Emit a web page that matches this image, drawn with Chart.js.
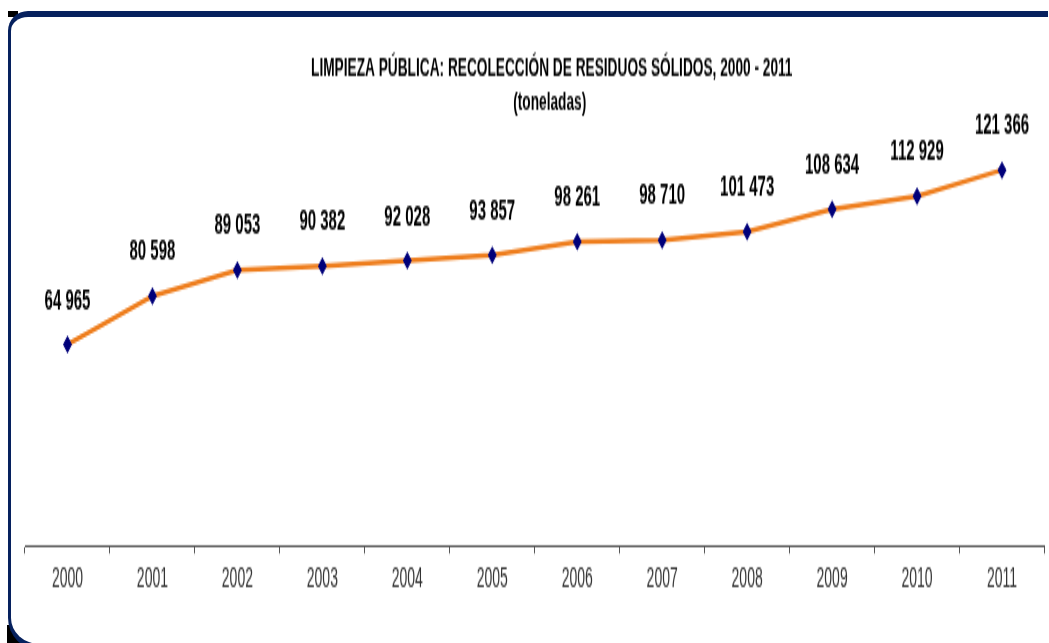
<!DOCTYPE html>
<html lang="es">
<head>
<meta charset="utf-8">
<title>Limpieza pública: recolección de residuos sólidos, 2000 - 2011</title>
<script src="https://cdn.jsdelivr.net/npm/chart.js@4/dist/chart.umd.min.js"></script>
<style>
  html, body { margin: 0; padding: 0; background: #fff; }
  body { width: 1049px; height: 643px; overflow: hidden; position: relative; }
  #corner { position: absolute; left: 8px; top: 11px; width: 10px; height: 6px; background: #000; }
  #corner2 { position: absolute; left: 7px; top: 625px; width: 14px; height: 20px; background: #000; }
  #frame {
    position: absolute; left: 8px; top: 11px; width: 1040px; height: 639px;
    border-top: 6px solid #06215e; border-left: 3px solid #06215e; border-bottom: 6px solid #06215e;
    border-top-left-radius: 20px; border-bottom-left-radius: 32px; box-sizing: border-box;
    background: #fff;
  }
  #wrap {
    position: absolute; left: 0; top: 0; width: 1049px; height: 322px;
    transform: scaleY(1.997); transform-origin: 0 0;
  }
</style>
</head>
<body>
<div id="corner"></div>
<div id="corner2"></div>
<div id="frame"></div>
<div id="wrap"><canvas id="chart" width="1049" height="322"></canvas></div>
<script>
// Data
const years = ['2000', '2001', '2002', '2003', '2004', '2005', '2006', '2007', '2008', '2009', '2010', '2011'];
const tonnes = [64965, 80598, 89053, 90382, 92028, 93857, 98261, 98710, 101473, 108634, 112929, 121366];
const titleLines = ['LIMPIEZA PÚBLICA: RECOLECCIÓN DE RESIDUOS SÓLIDOS, 2000 - 2011', '(toneladas)'];

// "64 965" style thousands separator
function formatTonnes(v) {
  return String(v).replace(/\B(?=(\d{3})+(?!\d))/g, ' ');
}

// Title sits a little right of the plot centre in the original
const offsetTitle = {
  id: 'offsetTitle',
  afterDraw(chart) {
    const ctx = chart.ctx;
    const { left, right } = chart.chartArea;
    const cx = (left + right) / 2 + 17;
    ctx.save();
    ctx.font = 'bold 13.7px "Liberation Sans", Arial, sans-serif';
    ctx.fillStyle = '#000';
    ctx.textAlign = 'center';
    ctx.textBaseline = 'middle';
    ctx.fillText(titleLines[0], cx, 34);
    ctx.fillText(titleLines[1], cx - 2, 51);
    ctx.restore();
  }
};

// Draws the value above each point
const valueLabels = {
  id: 'valueLabels',
  afterDatasetsDraw(chart) {
    const ctx = chart.ctx;
    const meta = chart.getDatasetMeta(0);
    ctx.save();
    ctx.font = 'bold 15px "Liberation Sans", Arial, sans-serif';
    ctx.fillStyle = '#000';
    ctx.textAlign = 'center';
    ctx.textBaseline = 'middle';
    meta.data.forEach((pt, i) => {
      ctx.fillText(formatTonnes(tonnes[i]), pt.x, pt.y - 22);
    });
    ctx.restore();
  }
};

const ctx = document.getElementById('chart').getContext('2d');
new Chart(ctx, {
  type: 'line',
  data: {
    labels: years,
    datasets: [{
      data: tonnes,
      borderColor: '#ee7d1c',
      borderWidth: 2.5,
      tension: 0,
      pointStyle: 'rectRot',
      pointRadius: 4.5,
      pointBackgroundColor: '#00007a',
      pointBorderColor: '#00007a',
      pointBorderWidth: 0
    }]
  },
  options: {
    responsive: false,
    animation: false,
    devicePixelRatio: 1,
    layout: { padding: { left: 25, right: 4, top: 64, bottom: 18 } },
    plugins: {
      legend: { display: false },
      tooltip: { enabled: false },
      title: { display: false }
    },
    scales: {
      x: {
        offset: true,
        border: { display: true, color: '#555', width: 1 },
        grid: { display: true, drawOnChartArea: false, drawTicks: true, tickLength: 4, color: '#555', offset: true },
        ticks: { color: '#333', font: { family: '"Liberation Sans", Arial, sans-serif', size: 14 }, padding: 5, maxRotation: 0 }
      },
      y: {
        display: false,
        min: 0,
        max: 135000
      }
    }
  },
  plugins: [valueLabels, offsetTitle]
});
</script>
</body>
</html>
